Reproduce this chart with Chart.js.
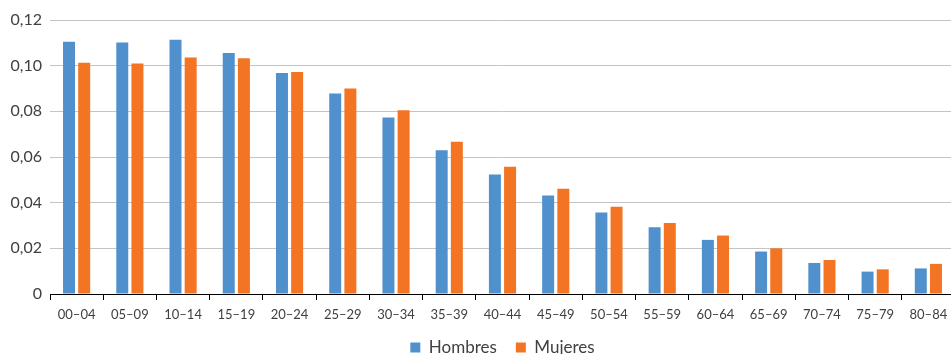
<!DOCTYPE html>
<html>
<head>
<meta charset="utf-8">
<script src="https://cdn.jsdelivr.net/npm/chart.js@4/dist/chart.umd.min.js"></script>
<style>
  html, body { margin: 0; padding: 0; background: #fff; overflow: hidden; }
  #wrap { width: 951px; height: 354px; overflow: hidden; }
</style>
</head>
<body>
<div id="wrap"><canvas id="chart" width="955" height="366"></canvas></div>
<script>
// age groups + share of population per group
const grupos = ["00–04", "05–09", "10–14", "15–19", "20–24", "25–29", "30–34", "35–39", "40–44",
                "45–49", "50–54", "55–59", "60–64", "65–69", "70–74", "75–79", "80–84"];
const hombres = [0.1105, 0.1101, 0.1114, 0.1055, 0.0968, 0.0878, 0.0773, 0.0630, 0.0523,
                 0.0431, 0.0357, 0.0292, 0.0237, 0.0186, 0.0136, 0.0098, 0.0112];
const mujeres = [0.1013, 0.1009, 0.1036, 0.1032, 0.0972, 0.0900, 0.0805, 0.0667, 0.0557,
                 0.0461, 0.0382, 0.0311, 0.0256, 0.0200, 0.0149, 0.0108, 0.0132];

const FONT = "Lato, 'Open Sans', sans-serif";
const TXT = "#404040";

// x labels hang a bit below the (short) x box; don't let the scale clip them
const unclipX = { id: "unclipX", afterLayout(chart) { chart.scales.x.bottom += 20; } };

new Chart(document.getElementById("chart"), {
  type: "bar",
  data: {
    labels: grupos,
    datasets: [
      { label: "Hombres", data: hombres, backgroundColor: "#4f90cd" },
      { label: "Mujeres", data: mujeres, backgroundColor: "#f37423" },
    ],
  },
  plugins: [unclipX],
  options: {
    responsive: false,
    animation: false,
    layout: { padding: { top: 20, left: 0, right: 0, bottom: 0 } },
    datasets: { bar: { categoryPercentage: 0.57, barPercentage: 0.79 } },
    plugins: {
      legend: {
        position: "bottom",
        fullSize: false,
        labels: { boxWidth: 10, boxHeight: 10, padding: 19, color: TXT, font: { family: FONT, size: 17 } },
      },
      tooltip: { enabled: false },
    },
    scales: {
      x: {
        grid: { drawOnChartArea: false, color: "#000", tickLength: 6, offset: true },
        border: { color: "#000", width: 1 },
        ticks: { color: TXT, font: { family: FONT, size: 13 }, maxRotation: 0, autoSkip: false, padding: 7 },
        afterFit: (s) => { s.height = 26; },
      },
      y: {
        min: 0, max: 0.12,
        grid: { color: "#c4c4c4", drawTicks: false },
        border: { display: false },
        ticks: {
          stepSize: 0.02, color: TXT, padding: 8, font: { family: FONT, size: 16 },
          callback: (v) => v === 0 ? "0" : v.toFixed(2).replace(".", ","),
        },
        afterFit: (s) => { s.width = 50; },
      },
    },
  },
});
</script>
</body>
</html>
